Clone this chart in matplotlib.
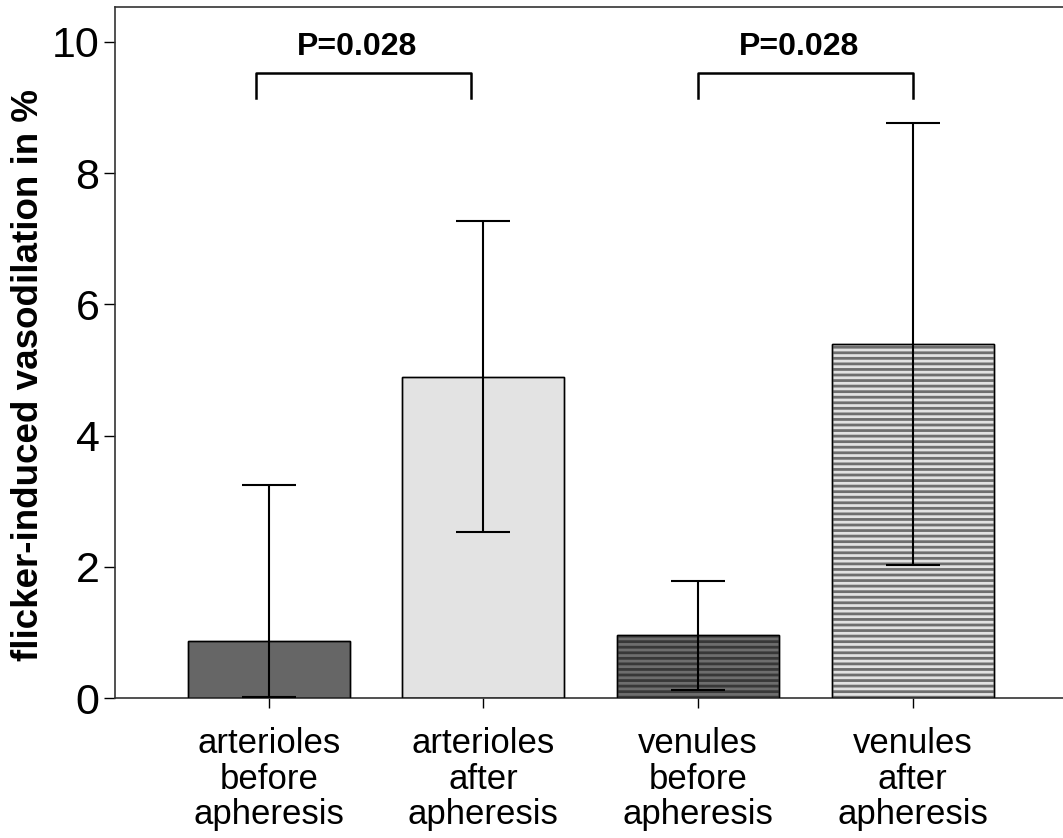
import matplotlib
matplotlib.use('Agg')
import matplotlib.pyplot as plt

plt.rcParams['font.family'] = ['Liberation Sans', 'DejaVu Sans']
plt.rcParams['hatch.linewidth'] = 2.0

# data
categories = ['arterioles\nbefore\napheresis', 'arterioles\nafter\napheresis',
              'venules\nbefore\napheresis', 'venules\nafter\napheresis']
means = [0.87, 4.89, 0.96, 5.40]
err_low = [0.02, 2.53, 0.12, 2.03]
err_high = [3.25, 7.27, 1.78, 8.77]
face_colors = ['#666666', '#e3e3e3', '#6e6e6e', '#e2e2e2']
hatch_colors = [None, None, '#383838', '#6e6e6e']
p_labels = ['P=0.028', 'P=0.028']
p_pairs = [(0, 1), (2, 3)]

x = list(range(len(categories)))

fig = plt.figure(figsize=(10.63, 8.38), dpi=100)
ax = fig.add_axes([0.108, 0.167, 0.892, 0.8246])

ax.bar(x, means, width=0.755, color=face_colors, edgecolor='black', linewidth=1.0, zorder=2)
for i in x:
    if hatch_colors[i]:
        ax.bar(x[i], means[i], width=0.755, color='none', edgecolor=hatch_colors[i],
               linewidth=0, hatch='---', zorder=2.5)
# redraw outlines on top of hatch
ax.bar(x, means, width=0.755, color='none', edgecolor='black', linewidth=1.0, zorder=3)

lower = [m - l for m, l in zip(means, err_low)]
upper = [h - m for m, h in zip(means, err_high)]
ax.errorbar(x, means, yerr=[lower, upper], fmt='none', ecolor='black',
            elinewidth=1.5, capsize=19.5, capthick=1.5, zorder=4)

# significance brackets
offsets = [-0.06, 0.0]
for (a, b), lab, off in zip(p_pairs, p_labels, offsets):
    xa, xb = a + off, b + off
    ax.plot([xa, xa, xb, xb], [9.15, 9.53, 9.53, 9.15], color='black', lw=1.8,
            clip_on=False, zorder=5)
    ax.text((xa + xb) / 2 - 0.03, 9.80, lab, ha='center', va='baseline',
            fontsize=23, fontweight='bold')

ax.set_xlim(-0.717, 3.70)
ax.set_ylim(0, 10.53)
ax.set_yticks([0, 2, 4, 6, 8, 10])
ax.set_xticks(x)
ax.set_xticklabels(categories, fontsize=25, linespacing=1.1)
ax.tick_params(axis='y', labelsize=31, length=8, width=1, pad=3)
ax.tick_params(axis='x', length=7, width=1, pad=14)
ax.set_ylabel('flicker-induced vasodilation in %', fontsize=26.5, fontweight='bold')
ax.yaxis.set_label_coords(-0.073, 0.467)
ax.spines['right'].set_visible(False)
for s in ['left', 'bottom', 'top']:
    ax.spines[s].set_linewidth(1.2)
    ax.spines[s].set_color('#333333')

fig.savefig('out.png', dpi=100)
